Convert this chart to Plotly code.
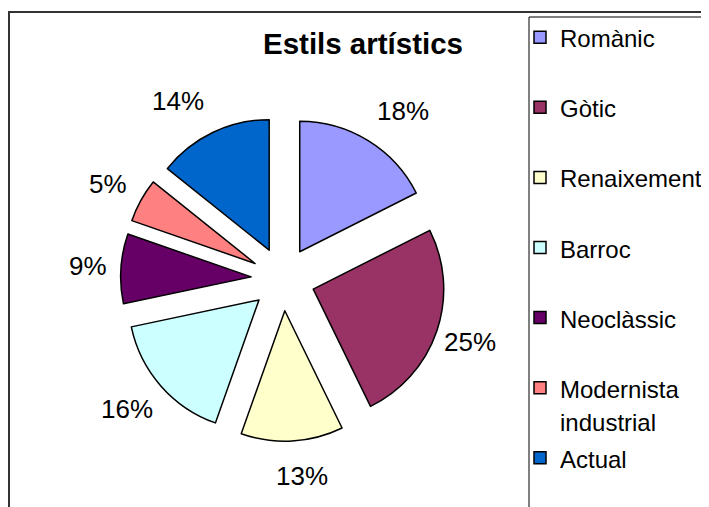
import math
import plotly.graph_objects as go

# ---- data ----
labels = ["Romànic", "Gòtic", "Renaixement", "Barroc", "Neoclàssic", "Modernista industrial", "Actual"]
legend_lines = [["Romànic"], ["Gòtic"], ["Renaixement"], ["Barroc"], ["Neoclàssic"],
                ["Modernista", "industrial"], ["Actual"]]
values = [17.5, 25.1, 12.6, 16.2, 8.6, 5.4, 14.2]
colors = ["#9999FF", "#993366", "#FFFFCC", "#CCFFFF", "#660066", "#FF8080", "#0066CC"]

W, H = 709, 507
OFF = 8  # page body margin of the exported html
LEG_FS = 24


def legend_text(lines):
    parts = [f'<span style="font-size:{LEG_FS}px">{t}</span>' for t in lines]
    if len(parts) == 1:
        parts.append("&nbsp;")
    return "<br>".join(parts)


legend_labels = [legend_text(l) for l in legend_lines]


def px_x(p):
    return (p - OFF) / W


def px_y(p):
    return 1 - (p - OFF) / H


PULL = 0.2445
cx_page, cy_page, half = 283.0, 278.9, 162.4
dom_x = [px_x(cx_page - half), px_x(cx_page + half)]
dom_y = [px_y(cy_page + half), px_y(cy_page - half)]

fig = go.Figure()
fig.add_trace(go.Pie(
    labels=legend_labels,
    values=values,
    sort=False,
    direction="clockwise",
    rotation=0,
    pull=PULL,
    marker=dict(colors=colors, line=dict(color="#000000", width=1.5)),
    textinfo="none",
    hoverinfo="percent",
    domain=dict(x=dom_x, y=dom_y),
))

# percentage labels placed outside each slice, around its mid-angle
cx = (dom_x[0] + dom_x[1]) / 2 * W
cy = (1 - (dom_y[0] + dom_y[1]) / 2) * H
total = sum(values)
cum = 0
for v in values:
    mid = (cum + v / 2) / total * 2 * math.pi
    cum += v
    s, c = math.sin(mid), math.cos(mid)
    px = cx + 158 * s + 37 * max(-1.0, min(1.0, s / 0.2))
    py = cy - 197 * c
    fig.add_annotation(
        x=px / W, y=1 - py / H, xref="paper", yref="paper",
        text=f"{round(v / total * 100)}%", showarrow=False,
        font=dict(family="Liberation Sans, Arial, sans-serif", size=26, color="#000000"),
        xanchor="center", yanchor="middle",
    )

# outer frame and legend frame
fig.add_shape(type="rect", xref="paper", yref="paper",
              x0=px_x(9), y0=px_y(12), x1=1.3, y1=-0.3,
              line=dict(color="#333333", width=2), fillcolor="rgba(0,0,0,0)", layer="below")
fig.add_shape(type="rect", xref="paper", yref="paper",
              x0=px_x(529), y0=px_y(17), x1=1.3, y1=-0.3,
              line=dict(color="#000000", width=1), fillcolor="rgba(0,0,0,0)", layer="below")

fig.update_layout(
    width=W, height=H,
    margin=dict(l=0, r=0, t=0, b=0),
    paper_bgcolor="#FFFFFF",
    plot_bgcolor="#FFFFFF",
    font=dict(family="Liberation Sans, Arial, sans-serif", color="#000000"),
    title=dict(text="<b>Estils artístics</b>", x=px_x(363), xanchor="center",
               y=px_y(44), yanchor="middle",
               font=dict(size=29.5, family="Liberation Sans, Arial, sans-serif", color="#000000")),
    legend=dict(
        x=px_x(520), xanchor="left",
        y=px_y(15), yanchor="top",
        valign="top",
        font=dict(size=25.8, family="Liberation Sans, Arial, sans-serif", color="#000000"),
        bgcolor="rgba(0,0,0,0)",
        borderwidth=0,
        traceorder="normal",
    ),
)

fig.write_html("out.html")
